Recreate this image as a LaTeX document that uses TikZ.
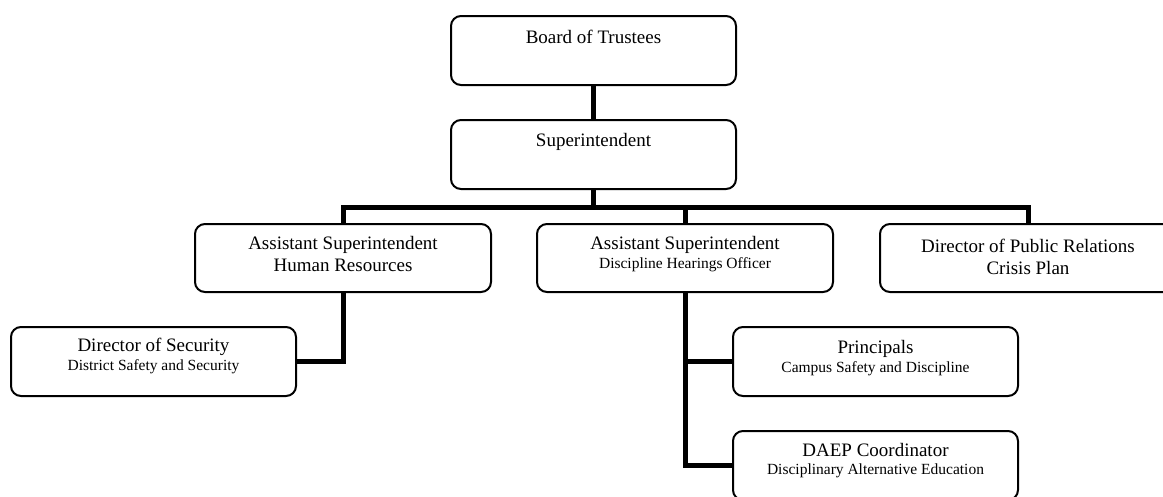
\documentclass[tikz,border=0pt]{standalone}
\usepackage{fontspec}
\setmainfont{Liberation Serif}
\tikzset{
  box/.style={draw, line width=2pt, rounded corners=10pt, fill=white, inner sep=0pt},
  widebox/.style={box, minimum width=296pt, minimum height=68pt},
  narrowbox/.style={box, minimum width=285pt, minimum height=69pt},
  bigtext/.style={font=\fontsize{19}{22}\selectfont, inner sep=0pt, anchor=base},
  smalltext/.style={font=\fontsize{15.5}{18}\selectfont, inner sep=0pt, anchor=base},
  link/.style={line width=5pt, line join=miter}
}
\begin{document}
\begin{tikzpicture}[x=1pt,y=-1pt]
\useasboundingbox (0,0) rectangle (1163,496);
\fill[white] (0,0) rectangle (1163,496);
\clip (0,0) rectangle (1163,496);

% boxes
\node[narrowbox] (board) at (593.5,50.5) {};
\node[narrowbox] (super) at (593.5,154.5) {};
\node[widebox] (hr) at (343,258) {};
\node[widebox] (disc) at (685,258) {};
\node[widebox] (pr) at (1028,258) {};
\node[narrowbox] (sec) at (153.5,361.5) {};
\node[narrowbox] (prin) at (875.5,361.5) {};
\node[narrowbox] (daep) at (875.5,465.5) {};

% connectors
\coordinate (bus) at (593.5,207);
\draw[link] (board.south) -- (super.north);
\draw[link] (super.south) -- (bus);
\draw[link] (hr.north) |- (pr.north |- bus) -- (pr.north);
\draw[link] (disc.north |- bus) -- (disc.north);
\draw[link] (hr.south) |- (sec.east);
\draw[link] (disc.south) |- (daep.west);
\draw[link] (disc.south |- prin.west) -- (prin.west);

% texts
\node[bigtext] (boardT) at (593.5,43) {Board of Trustees};
\node[bigtext] (superT) at (593.5,146) {Superintendent};
\node[bigtext] (hrT1) at (343,249) {Assistant Superintendent};
\node[bigtext] (hrT2) at (343,271) {Human Resources};
\node[bigtext] (discT1) at (685,249) {Assistant Superintendent};
\node[smalltext] (discT2) at (685,268) {Discipline Hearings Officer};
\node[bigtext] (prT1) at (1028,252) {Director of Public Relations};
\node[bigtext] (prT2) at (1028,274) {Crisis Plan};
\node[bigtext] (secT1) at (153.5,351) {Director of Security};
\node[smalltext] (secT2) at (153.5,370) {District Safety and Security};
\node[bigtext] (prinT1) at (875.5,353) {Principals};
\node[smalltext] (prinT2) at (875.5,372) {Campus Safety and Discipline};
\node[bigtext] (daepT1) at (875.5,456) {DAEP Coordinator};
\node[smalltext] (daepT2) at (875.5,474) {Disciplinary Alternative Education};
\end{tikzpicture}
\end{document}
